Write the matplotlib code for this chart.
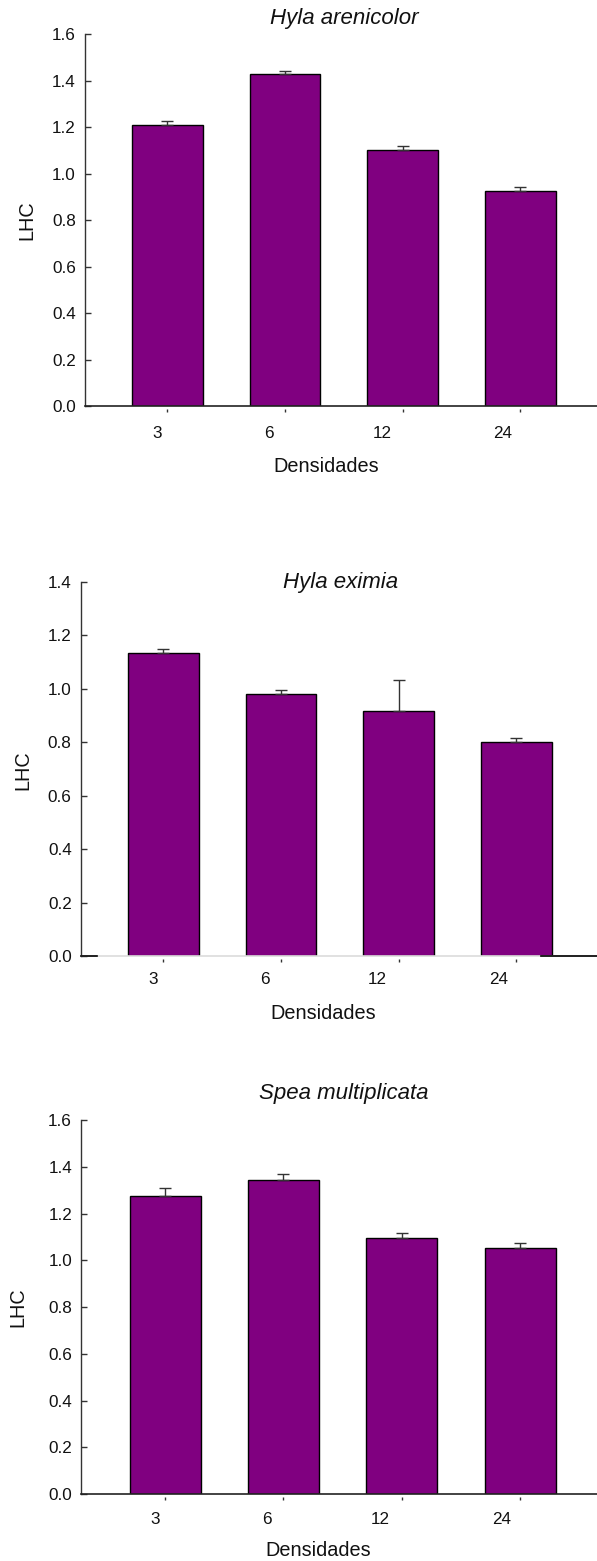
import numpy as np
import matplotlib
matplotlib.use("Agg")
import matplotlib.pyplot as plt
from matplotlib.markers import MarkerStyle
from matplotlib.path import Path
from matplotlib.transforms import ScaledTranslation

plt.rcParams['font.family'] = ['Liberation Sans', 'DejaVu Sans']

densidades = ["3", "6", "12", "24"]
especies = ["Hyla arenicolor", "Hyla eximia", "Spea multiplicata"]

# mean LHC and upper error (SE) per density
lhc_arenicolor = [1.209, 1.430, 1.104, 0.924]
err_arenicolor = [0.018, 0.012, 0.017, 0.019]
lhc_eximia = [1.133, 0.981, 0.916, 0.799]
err_eximia = [0.014, 0.015, 0.116, 0.015]
lhc_spea = [1.276, 1.343, 1.096, 1.055]
err_spea = [0.036, 0.029, 0.022, 0.019]

W, H = 597, 1561
fig = plt.figure(figsize=(W / 100, H / 100), dpi=100)

def fx(px):
    return px / W

def fy(py):
    return 1 - py / H

# layout in pixels: left, top(ymax), bottom(y=0), ymax, xlim, title pos, xlabel pos, ylabel pos, tick pad
panels = [
    dict(left=85, top=34.3, bottom=406, ymax=1.6, xlim=(-0.70, 3.65),
         title=(344.6, 18.3), xlab=(326, 466.7), ylab=(26.7, 220), pad=14.1),
    dict(left=80.7, top=581.7, bottom=956, ymax=1.4, xlim=(-0.704, 3.686),
         title=(340.8, 582.7), xlab=(323.6, 1014), ylab=(22.8, 770), pad=11.7),
    dict(left=81.1, top=1120.3, bottom=1494, ymax=1.6, xlim=(-0.709, 3.65),
         title=(343.8, 1093.3), xlab=(317.9, 1550), ylab=(18.3, 1306.7), pad=13.2),
]
series = [(lhc_arenicolor, err_arenicolor), (lhc_eximia, err_eximia), (lhc_spea, err_spea)]
label_shift = [-10, -16, -21, -18]  # px, tick labels sit left of ticks

tick_marker = MarkerStyle(Path([(0, -0.4), (0, -1.0)]))

for i, (p, (vals, errs)) in enumerate(zip(panels, series)):
    ax = fig.add_axes([fx(p['left']), fy(p['bottom']), 1 - fx(p['left']),
                       fy(p['top']) - fy(p['bottom'])])
    x = np.arange(len(densidades))
    ax.bar(x, vals, width=0.6, color='#800080', edgecolor='black', linewidth=1.0, zorder=2)
    ax.errorbar(x, vals, yerr=[np.zeros(len(errs)), errs], fmt='none', ecolor='#333333',
                elinewidth=1.0, capsize=4, capthick=1.0, zorder=3)
    ax.set_xlim(*p['xlim'])
    ax.set_ylim(0, p['ymax'])
    ax.set_yticks(np.arange(0, p['ymax'] + 0.01, 0.2))
    ax.set_yticklabels([f"{v:.1f}" for v in np.arange(0, p['ymax'] + 0.01, 0.2)])
    ax.set_xticks(x)
    ax.set_xticklabels(densidades)

    for s in ['top', 'right']:
        ax.spines[s].set_visible(False)
    ax.spines['left'].set_color('#333333')
    ax.spines['left'].set_linewidth(1.0)
    ax.spines['bottom'].set_color('#222222')
    ax.spines['bottom'].set_linewidth(1.2)

    ax.tick_params(axis='y', direction='in', length=4, width=1.0, color='#333333',
                   labelsize=12.3, pad=6.5, labelcolor='#111111')
    ax.tick_params(axis='x', length=0, pad=p['pad'], labelsize=12.3, labelcolor='#111111')
    for t in ax.xaxis.get_major_ticks():
        t.tick1line.set_marker(tick_marker)
        t.tick1line.set_markersize(9)
        t.tick1line.set_markeredgewidth(1.0)
        t.tick1line.set_markeredgecolor('#333333')
    for lbl, dx in zip(ax.get_xticklabels(), label_shift):
        lbl.set_transform(lbl.get_transform() + ScaledTranslation(dx / 100, 0, fig.dpi_scale_trans))

    ax.set_xlabel("Densidades", fontsize=14.3, color='#111111')
    ax.xaxis.set_label_coords(fx(p['xlab'][0]), fy(p['xlab'][1]), transform=fig.transFigure)
    ax.xaxis.label.set_va('center')
    ax.set_ylabel("LHC", fontsize=14.3, color='#111111')
    ax.yaxis.set_label_coords(fx(p['ylab'][0]), fy(p['ylab'][1]), transform=fig.transFigure)
    ax.yaxis.label.set_va('center')

    fig.text(fx(p['title'][0]), fy(p['title'][1]), especies[i], fontsize=16, style='italic',
             ha='center', va='center', color='#111111')

    if i == 1:
        # light baseline with short dark ends, as in the original
        ax.spines['bottom'].set_color('#dcdcdc')
        x0 = (97 - p['left']) / (W - p['left'])
        x1 = (540.6 - p['left']) / (W - p['left'])
        ax.plot([0, x0], [0, 0], color='black', lw=1.2, transform=ax.transAxes, clip_on=False, zorder=4)
        ax.plot([x1, 1], [0, 0], color='black', lw=1.2, transform=ax.transAxes, clip_on=False, zorder=4)

fig.savefig("out.png", dpi=100)
